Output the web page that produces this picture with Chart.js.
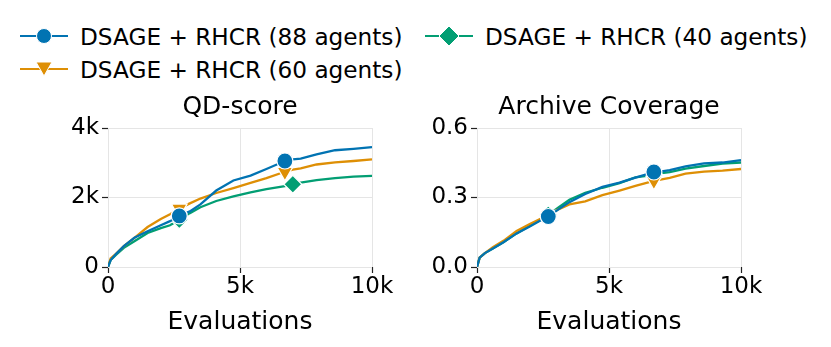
<!DOCTYPE html>
<html>
<head>
<meta charset="utf-8">
<script src="https://cdn.jsdelivr.net/npm/chart.js"></script>
<style>
  body { margin: 0; background: #fff; width: 831px; height: 347px; position: relative; overflow: hidden; font-family: "DejaVu Sans", sans-serif; }
  #wrapLeft { position: absolute; left: 0; top: 88px; width: 415px; height: 259px; }
  #wrapRight { position: absolute; left: 415px; top: 88px; width: 416px; height: 259px; }
  .leg { position: absolute; height: 30px; display: flex; align-items: center; font-size: 23.2px; color: #000; white-space: nowrap; }
  .leg svg { margin-right: 12px; }
</style>
</head>
<body>
<div class="leg" style="left:20px; top:21px;"><svg width="48" height="24"><line x1="0" y1="12" x2="48" y2="12" stroke="#0173b2" stroke-width="2.2"/><circle cx="24" cy="12" r="7.5" fill="#0173b2" stroke="#fff" stroke-width="1"/></svg>DSAGE + RHCR (88 agents)</div>
<div class="leg" style="left:20px; top:54px;"><svg width="48" height="24"><line x1="0" y1="12" x2="48" y2="12" stroke="#de8f05" stroke-width="2.2"/><polygon points="16,5 32,5 24,19" fill="#de8f05" stroke="#fff" stroke-width="1"/></svg>DSAGE + RHCR (60 agents)</div>
<div class="leg" style="left:425px; top:21px;"><svg width="48" height="24"><line x1="0" y1="12" x2="48" y2="12" stroke="#029e73" stroke-width="2.2"/><polygon points="24,2 34,12 24,22 14,12" fill="#029e73" stroke="#fff" stroke-width="1"/></svg>DSAGE + RHCR (40 agents)</div>

<div id="wrapLeft"><canvas id="qdChart"></canvas></div>
<div id="wrapRight"><canvas id="covChart"></canvas></div>

<script>
// evaluations (x) shared by every series
var evals = [0, 100, 300, 600, 1000, 1500, 2000, 2350, 2700, 3100, 3500, 4100, 4750, 5400, 6000, 6700, 7000, 7300, 7900, 8600, 9300, 10000];

// QD-score
var qd88 = [0, 200, 370, 600, 840, 1030, 1200, 1320, 1470, 1600, 1800, 2200, 2490, 2630, 2820, 3050, 3100, 3120, 3240, 3360, 3400, 3450];
var qd60 = [0, 250, 380, 600, 840, 1150, 1380, 1520, 1680, 1830, 1970, 2130, 2270, 2420, 2560, 2740, 2800, 2840, 2950, 3010, 3050, 3100];
var qd40 = [0, 200, 350, 550, 740, 980, 1120, 1200, 1360, 1550, 1720, 1900, 2030, 2150, 2240, 2330, 2380, 2430, 2500, 2560, 2600, 2620];

// Archive Coverage
var cov88 = [0, 0.04, 0.06, 0.08, 0.107, 0.145, 0.175, 0.197, 0.218, 0.25, 0.28, 0.315, 0.346, 0.364, 0.386, 0.41, 0.413, 0.418, 0.434, 0.447, 0.451, 0.461];
var cov60 = [0, 0.04, 0.06, 0.085, 0.113, 0.155, 0.185, 0.205, 0.225, 0.25, 0.27, 0.283, 0.31, 0.33, 0.35, 0.372, 0.378, 0.385, 0.403, 0.412, 0.416, 0.423];
var cov40 = [0, 0.04, 0.06, 0.08, 0.107, 0.145, 0.178, 0.2, 0.225, 0.258, 0.29, 0.32, 0.342, 0.362, 0.387, 0.398, 0.405, 0.41, 0.425, 0.436, 0.446, 0.451];

// which points carry a marker
var marks88 = [8, 15];
var marks60 = [8, 15];
var marks40Qd = [8, 16];
var marks40Cov = [8, 15];

// ticks
var xTickVals = [0, 5000, 10000];
var xTickLabels = ["0", "5k", "10k"];
var qdTickVals = [0, 2000, 4000];
var qdTickLabels = ["0", "2k", "4k"];
var covTickVals = [0, 0.3, 0.6];
var covTickLabels = ["0.0", "0.3", "0.6"];

const FONT = "DejaVu Sans";
Chart.defaults.font.family = FONT;
Chart.defaults.color = "#000";

function series(vals) {
  return evals.map((x, i) => ({ x: x, y: vals[i] }));
}

function makeSet(label, vals, color, marks, style, r) {
  return {
    label: label,
    data: series(vals),
    borderColor: color,
    backgroundColor: color,
    borderWidth: 2.3,
    tension: 0,
    pointStyle: style,
    rotation: style == "triangle" ? 180 : 0,
    pointRadius: ctx => marks.includes(ctx.dataIndex) ? r : 0,
    pointHoverRadius: ctx => marks.includes(ctx.dataIndex) ? r : 0,
    pointBorderColor: "#fff",
    pointBorderWidth: 1.2,
    pointBackgroundColor: color
  };
}

function makeChart(el, title, sets, yMax, yVals, yLabels, yWidth, padRight) {
  return new Chart(document.getElementById(el), {
    type: "line",
    data: { datasets: sets },
    options: {
      responsive: true,
      maintainAspectRatio: false,
      animation: false,
      events: [],
      layout: { padding: { left: 0, right: padRight, top: 0, bottom: 0 } },
      plugins: {
        legend: { display: false },
        tooltip: { enabled: false },
        title: {
          display: true,
          fullSize: false,
          text: title,
          color: "#000",
          font: { size: 25, weight: "normal" },
          padding: { top: 4, bottom: 6 }
        }
      },
      scales: {
        x: {
          type: "linear",
          min: 0,
          max: 10000,
          afterBuildTicks: s => { s.ticks = xTickVals.map(v => ({ value: v })); },
          afterFit: s => { s.height = 80; },
          ticks: {
            font: { size: 23 },
            color: "#000",
            padding: 0,
            maxRotation: 0,
            callback: (v, i) => xTickLabels[i]
          },
          grid: { color: "#e5e5e5", lineWidth: 1, tickColor: "#222", tickLength: 6, tickWidth: 1.2 },
          border: { display: false },
          title: { display: true, text: "Evaluations", color: "#000", font: { size: 25 }, padding: { top: 0, bottom: 10 } }
        },
        y: {
          min: 0,
          max: yMax,
          afterBuildTicks: s => { s.ticks = yVals.map(v => ({ value: v })); },
          afterFit: s => { s.width = yWidth; },
          ticks: {
            font: { size: 23 },
            color: "#000",
            padding: 3,
            callback: (v, i) => yLabels[i]
          },
          grid: { color: "#e5e5e5", lineWidth: 1, tickColor: "#222", tickLength: 6, tickWidth: 1.2 },
          border: { display: false }
        }
      }
    }
  });
}

makeChart("qdChart", "QD-score", [
  makeSet("DSAGE + RHCR (88 agents)", qd88, "#0173b2", marks88, "circle", 8),
  makeSet("DSAGE + RHCR (60 agents)", qd60, "#de8f05", marks60, "triangle", 9),
  makeSet("DSAGE + RHCR (40 agents)", qd40, "#029e73", marks40Qd, "rectRot", 9)
], 4000, qdTickVals, qdTickLabels, 108, 43);

makeChart("covChart", "Archive Coverage", [
  makeSet("DSAGE + RHCR (88 agents)", cov88, "#0173b2", marks88, "circle", 8),
  makeSet("DSAGE + RHCR (60 agents)", cov60, "#de8f05", marks60, "triangle", 9),
  makeSet("DSAGE + RHCR (40 agents)", cov40, "#029e73", marks40Cov, "rectRot", 9)
], 0.6, covTickVals, covTickLabels, 62, 90);
</script>
</body>
</html>
